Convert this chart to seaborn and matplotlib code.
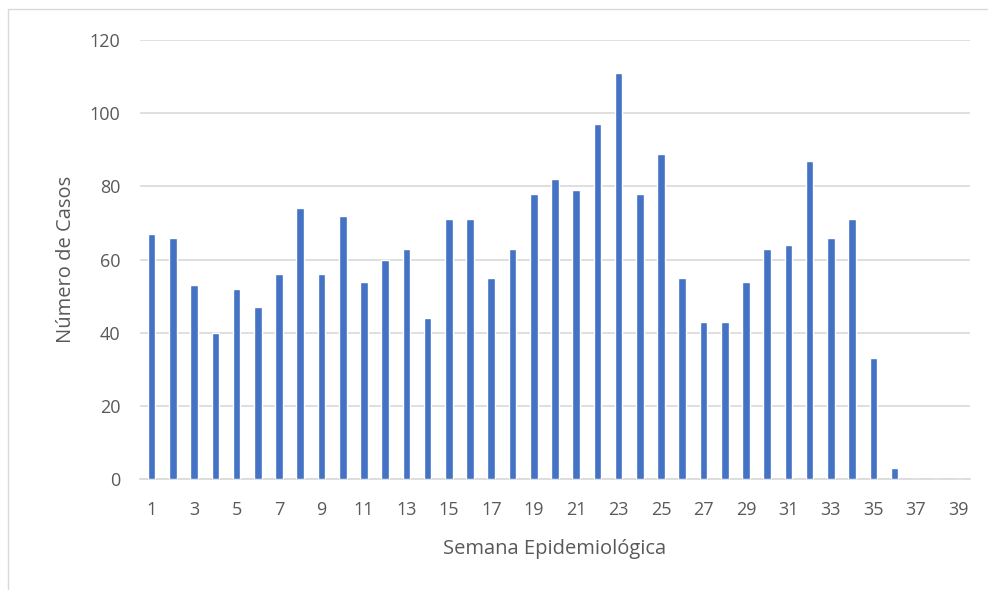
import pandas as pd
import seaborn as sns
import matplotlib.pyplot as plt
from matplotlib.patches import Rectangle

semanas = list(range(1, 40))
casos = [67, 66, 53, 40, 52, 47, 56, 74, 56, 72,
         54, 60, 63, 44, 71, 71, 55, 63, 78, 82,
         79, 97, 111, 78, 89, 55, 43, 43, 54, 63,
         64, 87, 66, 71, 33, 3, 0, 0, 0]

df = pd.DataFrame({'semana': [str(s) for s in semanas], 'casos': casos})

sns.set_style('white')
plt.rcParams['font.family'] = ['Open Sans', 'DejaVu Sans']

fig = plt.figure(figsize=(9.88, 5.9), dpi=100)
ax = fig.add_axes([0.1417, 0.188, 0.840, 0.744])

sns.barplot(data=df, x='semana', y='casos', order=df['semana'], color='#4472C4',
            width=0.36, saturation=1, ax=ax, zorder=3)

ax.set_ylim(0, 120)
ax.set_yticks(range(0, 121, 20))
ax.set_xlim(-0.55, len(semanas) - 0.45)
ax.yaxis.grid(True, color='#D9D9D9', linewidth=1.2, zorder=0)
ax.set_axisbelow(True)

labels = [s if int(s) % 2 == 1 else '' for s in df['semana']]
ax.set_xticks(range(len(semanas)))
ax.set_xticklabels(labels)
ax.tick_params(axis='both', length=0, labelsize=13, labelcolor='#595959')
ax.tick_params(axis='x', pad=16)
ax.tick_params(axis='y', pad=14)

for side in ['top', 'right', 'left']:
    ax.spines[side].set_visible(False)
ax.spines['bottom'].set_color('#D9D9D9')
ax.spines['bottom'].set_linewidth(1.2)

ax.set_xlabel('Semana Epidemiológica', fontsize=14.5, color='#595959', labelpad=14)
ax.set_ylabel('Número de Casos', fontsize=14.5, color='#595959', labelpad=10)

fig.patches.append(Rectangle((8 / 988, -0.05), 1.2, (581 / 590) + 0.05,
                             transform=fig.transFigure, fill=False,
                             edgecolor='#D9D9D9', linewidth=1))

fig.savefig('out.png', dpi=100)
